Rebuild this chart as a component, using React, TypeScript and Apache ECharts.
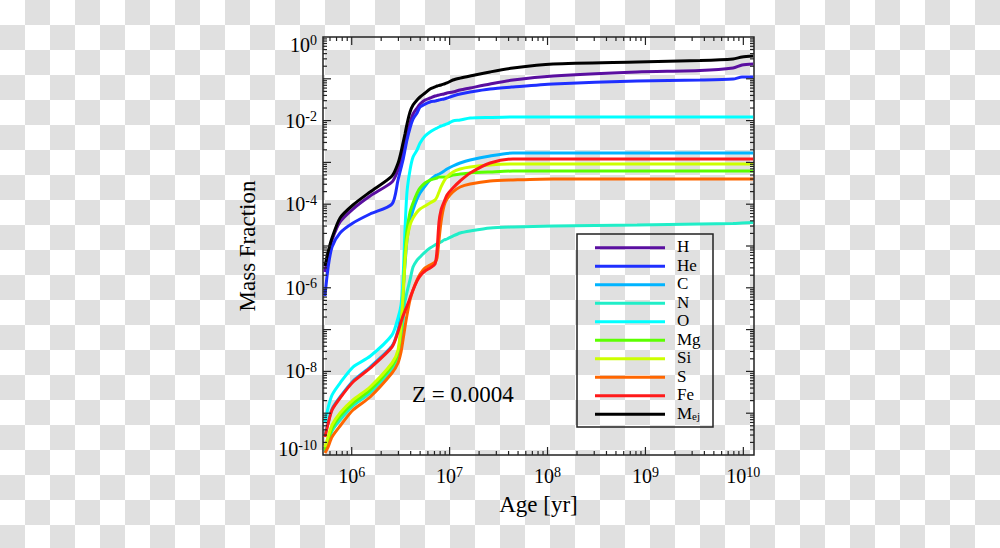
import React, { useEffect, useRef } from 'react';
import * as echarts from 'echarts';

// Age [yr] sample points (shared by all series)
const ages = [5.33e5, 5.73e5, 6.29e5, 7.6e5, 1.03e6, 1.54e6, 2.58e6, 2.97e6, 3.19e6, 3.34e6, 3.5e6, 3.67e6, 3.94e6, 4.23e6, 4.65e6, 4.99e6, 5.61e6, 6.31e6, 7.1e6, 7.44e6, 7.79e6, 8.17e6, 8.77e6, 9.4e6, 1.08e7, 1.28e7, 1.62e7, 2.59e7, 4.44e7, 1.14e8, 8.21e8, 3.61e9, 7.85e9, 9.7e9, 1.26e10];

const fracH = [2.39e-6, 6.09e-6, 1.39e-5, 3.75e-5, 7.67e-5, 1.57e-4, 3.4e-4, 6.58e-4, 1.14e-3, 1.98e-3, 3.08e-3, 4.78e-3, 8.77e-3, 1.44e-2, 2.0e-2, 2.49e-2, 3.11e-2, 3.47e-2, 3.88e-2, 3.98e-2, 4.09e-2, 4.21e-2, 4.33e-2, 4.57e-2, 4.83e-2, 5.4e-2, 6.03e-2, 7.51e-2, 9.36e-2, 0.117, 0.146, 0.158, 0.181, 0.214, 0.226];
const fracHe = [6.37e-7, 2.98e-6, 9.46e-6, 2.05e-5, 3.55e-5, 5.83e-5, 1.01e-4, 3.79e-4, 7.35e-4, 1.14e-3, 1.98e-3, 3.44e-3, 6.65e-3, 1.09e-2, 1.52e-2, 2.11e-2, 2.49e-2, 2.79e-2, 2.94e-2, 3.03e-2, 3.11e-2, 3.2e-2, 3.29e-2, 3.47e-2, 3.88e-2, 4.33e-2, 4.83e-2, 5.7e-2, 6.37e-2, 7.51e-2, 8.86e-2, 9.36e-2, 9.89e-2, 0.11, 0.11];
const fracC = [2.85e-10, 5.83e-10, 1.26e-9, 2.44e-9, 5.89e-9, 1.27e-8, 4.05e-8, 9.77e-8, 2.64e-7, 8.85e-7, 3.51e-6, 1.39e-5, 3.75e-5, 7.26e-5, 1.33e-4, 1.85e-4, 2.72e-4, 3.79e-4, 4.73e-4, 5.0e-4, 5.27e-4, 5.57e-4, 6.22e-4, 6.95e-4, 8.2e-4, 9.68e-4, 1.14e-3, 1.42e-3, 1.68e-3, 1.68e-3, 1.68e-3, 1.68e-3, 1.68e-3, 1.68e-3, 1.68e-3];
const fracN = [1.18e-10, 1.94e-10, 3.75e-10, 6.87e-10, 1.49e-9, 3.04e-9, 1.14e-8, 2.33e-8, 5.64e-8, 1.52e-7, 4.57e-7, 7.94e-7, 1.54e-6, 3.15e-6, 4.62e-6, 5.45e-6, 7.18e-6, 8.95e-6, 1.06e-5, 1.12e-5, 1.18e-5, 1.25e-5, 1.39e-5, 1.47e-5, 1.73e-5, 2.05e-5, 2.29e-5, 2.7e-5, 2.85e-5, 3.01e-5, 3.18e-5, 3.36e-5, 3.45e-5, 3.55e-5, 3.65e-5];
const fracO = [6.15e-10, 1.33e-9, 2.72e-9, 5.27e-9, 1.27e-8, 2.3e-8, 7.43e-8, 1.9e-7, 3.88e-7, 1.54e-6, 2.42e-5, 1.96e-4, 6.58e-4, 1.35e-3, 1.98e-3, 2.91e-3, 4.28e-3, 5.33e-3, 6.3e-3, 6.65e-3, 7.03e-3, 7.43e-3, 7.85e-3, 8.3e-3, 9.78e-3, 1.03e-2, 1.15e-2, 1.19e-2, 1.22e-2, 1.22e-2, 1.22e-2, 1.22e-2, 1.22e-2, 1.22e-2, 1.22e-2];
const fracMg = [1.32e-10, 2.28e-10, 4.42e-10, 8.57e-10, 1.75e-9, 3.59e-9, 1.35e-8, 2.75e-8, 9.77e-8, 5.11e-7, 6.09e-6, 2.42e-5, 6.5e-5, 1.07e-4, 1.85e-4, 2.44e-4, 3.21e-4, 3.79e-4, 4.12e-4, 4.24e-4, 4.48e-4, 4.48e-4, 4.48e-4, 4.48e-4, 5.0e-4, 5.27e-4, 5.57e-4, 5.89e-4, 6.22e-4, 6.22e-4, 6.22e-4, 6.22e-4, 6.22e-4, 6.22e-4, 6.22e-4];
const fracSi = [1.55e-10, 2.7e-10, 5.22e-10, 1.01e-9, 2.07e-9, 4.24e-9, 1.59e-8, 3.25e-8, 1.29e-7, 6.73e-7, 4.14e-6, 1.39e-5, 3.18e-5, 4.68e-5, 6.5e-5, 7.67e-5, 9.06e-5, 1.07e-4, 1.26e-4, 1.49e-4, 1.96e-4, 2.58e-4, 3.59e-4, 4.48e-4, 5.89e-4, 6.95e-4, 7.76e-4, 8.67e-4, 9.16e-4, 9.16e-4, 9.16e-4, 9.16e-4, 9.16e-4, 9.16e-4, 9.16e-4];
const fracS = [1.12e-10, 1.55e-10, 2.7e-10, 4.94e-10, 1.19e-9, 2.44e-9, 9.16e-9, 1.59e-8, 2.91e-8, 5.64e-8, 1.15e-7, 2.23e-7, 5.11e-7, 8.85e-7, 1.54e-6, 2.14e-6, 2.98e-6, 3.51e-6, 4.14e-6, 5.16e-6, 1.39e-5, 3.75e-5, 9.06e-5, 1.33e-4, 1.96e-4, 2.58e-4, 3.04e-4, 3.59e-4, 3.79e-4, 4.01e-4, 4.01e-4, 4.01e-4, 4.01e-4, 4.01e-4, 4.01e-4];
const fracFe = [2.7e-10, 5.52e-10, 1.19e-9, 2.31e-9, 5.57e-9, 1.2e-8, 3.84e-8, 8.77e-8, 1.52e-7, 2.11e-7, 2.78e-7, 3.67e-7, 5.7e-7, 8.85e-7, 1.46e-6, 1.92e-6, 2.52e-6, 2.98e-6, 3.71e-6, 8.02e-6, 3.75e-5, 7.26e-5, 1.13e-4, 1.66e-4, 2.44e-4, 3.59e-4, 5.57e-4, 9.68e-4, 1.21e-3, 1.21e-3, 1.21e-3, 1.21e-3, 1.21e-3, 1.21e-3, 1.21e-3];
const fracMej = [3.32e-6, 7.18e-6, 1.55e-5, 4.68e-5, 9.57e-5, 1.96e-4, 4.73e-4, 9.5e-4, 1.77e-3, 2.91e-3, 4.78e-3, 8.3e-3, 1.61e-2, 2.36e-2, 3.11e-2, 3.67e-2, 4.57e-2, 5.7e-2, 6.37e-2, 6.73e-2, 6.92e-2, 7.11e-2, 7.51e-2, 7.94e-2, 9.36e-2, 0.104, 0.117, 0.146, 0.181, 0.226, 0.252, 0.274, 0.298, 0.332, 0.351];

const seriesNames = ['H', 'He', 'C', 'N', 'O', 'Mg', 'Si', 'S', 'Fe', 'Mej'];
const seriesValues = [fracH, fracHe, fracC, fracN, fracO, fracMg, fracSi, fracS, fracFe, fracMej];
const seriesColors = ['#5a0fa0', '#1f2fff', '#00b4ff', '#20eec8', '#00ffff', '#5cff00', '#ccff00', '#ff6600', '#ff1a1a', '#000000'];

const X_MIN = 5.09e5;
const X_MAX = 1.285e10;
const Y_MIN = 1e-10;
const Y_MAX = 1;
const xDecades = [5, 6, 7, 8, 9, 10];
const yDecades = [-10, -9, -8, -7, -6, -5, -4, -3, -2, -1, 0];

const FONT = '"Liberation Serif", "Times New Roman", serif';

function powLabel(v: number) {
  const l = Math.log10(v);
  const e = Math.round(l);
  if (Math.abs(l - e) > 1e-6) return '';
  return '{b|10}{s|' + e + '}';
}

function yPowLabel(v: number) {
  const l = Math.log10(v);
  const e = Math.round(l);
  if (Math.abs(l - e) > 1e-6) return '';
  if (e === -10) return '{bmin|10}{smin|' + e + '}';
  if (e === 0) return '{bmax|10}{smax|' + e + '}';
  return '{b|10}{s|' + e + '}';
}

export default function App() {
  const ref = useRef<HTMLDivElement>(null);
  useEffect(() => {
    if (!ref.current) return;
    const chart = echarts.init(ref.current, null, { renderer: 'svg' });

    const tickData: number[][] = [];
    xDecades.forEach((d) => {
      for (let k = 1; k <= 9; k++) {
        const v = k * Math.pow(10, d);
        if (v > X_MIN && v < X_MAX) tickData.push([v, Y_MIN, k === 1 ? 0 : 1]);
      }
    });
    yDecades.forEach((d) => {
      for (let k = 1; k <= 9; k++) {
        const v = k * Math.pow(10, d);
        if (v > Y_MIN * 1.0001 && v < Y_MAX * 0.9999) tickData.push([X_MIN, v, k === 1 ? 2 : 3]);
      }
    });

    const rich = {
      b: { fontSize: 20, fontFamily: FONT, color: '#000', lineHeight: 22 },
      s: { fontSize: 14, fontFamily: FONT, color: '#000', verticalAlign: 'top', lineHeight: 22 },
    };
    const yRich = {
      ...rich,
      bmin: { fontSize: 20, fontFamily: FONT, color: '#000', lineHeight: 12 },
      smin: { fontSize: 14, fontFamily: FONT, color: '#000', verticalAlign: 'top', lineHeight: 12, padding: [-5, 0, 0, 0] },
      bmax: { fontSize: 20, fontFamily: FONT, color: '#000', lineHeight: 15 },
      smax: { fontSize: 14, fontFamily: FONT, color: '#000', verticalAlign: 'top', lineHeight: 15, padding: [-4, 0, 0, 0] },
    };

    const lineSeries = seriesNames.map((name, i) => ({
      name,
      type: 'line',
      data: ages.map((a, j) => [a, seriesValues[i][j]]),
      showSymbol: false,
      symbol: 'none',
      smooth: 0.25,
      color: seriesColors[i],
      lineStyle: { width: 3, color: seriesColors[i] },
      clip: true,
      z: 3 + i,
    }));

    // legend drawn as graphic elements
    const legendTop = 247.7;
    const legendStep = 18.5;
    const legendEls: any[] = [];
    seriesNames.forEach((name, i) => {
      const y = legendTop + legendStep * i;
      legendEls.push({
        type: 'line',
        shape: { x1: 595, y1: y, x2: 665, y2: y },
        style: { stroke: seriesColors[i], lineWidth: 3 },
        z: 10,
      });
      legendEls.push({
        type: 'text',
        x: 677,
        y: y - 1,
        style: {
          text: name === 'Mej' ? '{t|M}{sub|ej}' : '{t|' + name + '}',
          fill: '#000',
          verticalAlign: 'middle',
          rich: {
            t: { fontFamily: FONT, fontSize: 17, color: '#000', lineHeight: 17 },
            sub: { fontFamily: FONT, fontSize: 11, color: '#000', lineHeight: 17, verticalAlign: 'bottom' },
          },
        },
        z: 10,
      });
    });

    const option: any = {
      animation: false,
      backgroundColor: 'transparent',
      grid: {
        left: 323,
        top: 37,
        right: 246,
        bottom: 93,
        show: true,
        borderColor: '#222',
        borderWidth: 1.5,
        backgroundColor: 'transparent',
      },
      xAxis: {
        type: 'log',
        logBase: 10,
        min: X_MIN,
        max: X_MAX,
        name: 'Age [yr]',
        nameLocation: 'middle',
        nameGap: 38,
        nameTextStyle: { fontFamily: FONT, fontSize: 23, color: '#000' },
        axisLine: { show: false },
        axisTick: { show: false },
        splitLine: { show: false },
        axisLabel: {
          margin: 10,
          formatter: powLabel,
          rich,
          showMinLabel: true,
          showMaxLabel: true,
          hideOverlap: false,
        },
      },
      yAxis: {
        type: 'log',
        logBase: 10,
        min: Y_MIN,
        max: Y_MAX,
        interval: 2,
        name: 'Mass Fraction',
        nameLocation: 'middle',
        nameGap: 64,
        nameRotate: 90,
        nameTextStyle: { fontFamily: FONT, fontSize: 23, color: '#000' },
        axisLine: { show: false },
        axisTick: { show: false },
        splitLine: { show: false },
        axisLabel: {
          margin: 6,
          formatter: yPowLabel,
          rich: yRich,
          hideOverlap: false,
          verticalAlignMinLabel: 'bottom',
          verticalAlignMaxLabel: 'top',
        },
      },
      graphic: [
        {
          type: 'rect',
          shape: { x: 577, y: 234, width: 136, height: 193 },
          style: { fill: 'none', stroke: '#222', lineWidth: 1.5 },
          z: 10,
        },
        ...legendEls,
        {
          type: 'text',
          x: 412,
          y: 394,
          style: {
            text: 'Z = 0.0004',
            font: '23px "Liberation Serif", "Times New Roman", serif',
            fill: '#000',
            verticalAlign: 'middle',
          },
          z: 10,
        },
      ],
      series: [
        {
          type: 'custom',
          name: 'ticks',
          data: tickData,
          silent: true,
          z: 20,
          clip: false,
          renderItem: (params: any, api: any) => {
            const cs = params.coordSys;
            const kind = api.value(2);
            const p = api.coord([api.value(0), api.value(1)]);
            const st = { stroke: '#222', lineWidth: 1.2 };
            if (kind < 2) {
              const len = kind === 0 ? 8 : 4;
              return {
                type: 'group',
                children: [
                  { type: 'line', shape: { x1: p[0], y1: cs.y + cs.height, x2: p[0], y2: cs.y + cs.height - len }, style: st },
                  { type: 'line', shape: { x1: p[0], y1: cs.y, x2: p[0], y2: cs.y + len }, style: st },
                ],
              };
            }
            const len = kind === 2 ? 8 : 4;
            return {
              type: 'group',
              children: [
                { type: 'line', shape: { x1: cs.x, y1: p[1], x2: cs.x + len, y2: p[1] }, style: st },
                { type: 'line', shape: { x1: cs.x + cs.width, y1: p[1], x2: cs.x + cs.width - len, y2: p[1] }, style: st },
              ],
            };
          },
        },
        ...lineSeries,
      ],
    };

    chart.setOption(option);
    return () => chart.dispose();
  }, []);

  return (
    <div
      style={{
        position: 'absolute',
        left: 0,
        top: 0,
        width: 1000,
        height: 548,
        backgroundColor: '#ffffff',
        backgroundImage: 'conic-gradient(#e0e0e0 0 25%, #ffffff 0 50%, #e0e0e0 0 75%, #ffffff 0)',
        backgroundSize: '50px 50px',
      }}
    >
      <div ref={ref} style={{ width: 1000, height: 548 }} />
    </div>
  );
}
